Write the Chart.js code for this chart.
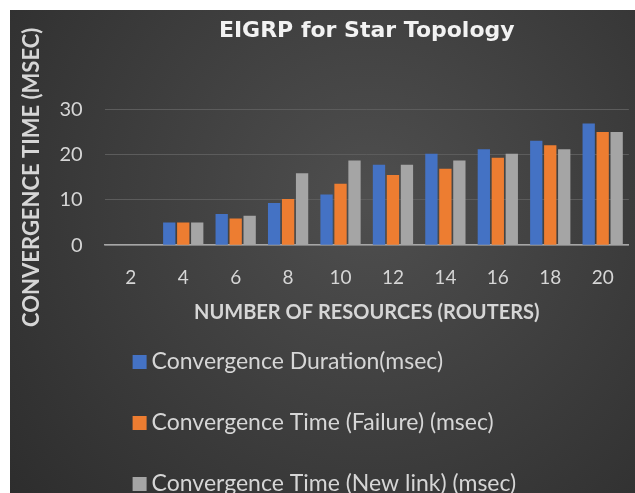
<!DOCTYPE html>
<html>
<head>
<meta charset="utf-8">
<script src="https://cdn.jsdelivr.net/npm/chart.js@4.4.1/dist/chart.umd.min.js"></script>
<style>
  body { margin: 0; background: #ffffff; }
  #wrap { position: absolute; left: 10px; top: 10px; width: 625px; height: 483px; }
</style>
</head>
<body>
<div id="wrap"><canvas id="chart"></canvas></div>
<script>
// Values
const routers = ["2", "4", "6", "8", "10", "12", "14", "16", "18", "20"];
const durationMs = [0, 5.0, 6.9, 9.3, 11.2, 17.8, 20.2, 21.2, 23.1, 26.9];
const failureMs = [0, 5.0, 5.9, 10.2, 13.6, 15.5, 16.9, 19.3, 22.1, 25.0];
const newLinkMs = [0, 5.0, 6.5, 15.9, 18.7, 17.8, 18.7, 20.2, 21.2, 25.0];
const yTicks = [0, 10, 20, 30];

const textColor = "#d6d6d6";

// Dark radial backdrop like the Office chart style
const backdrop = {
  id: "backdrop",
  beforeDraw(chart) {
    const { ctx, width, height } = chart;
    const g = ctx.createRadialGradient(360, 190, 10, 360, 190, 480);
    g.addColorStop(0, "#4e4e4e");
    g.addColorStop(1, "#2c2c2c");
    ctx.save();
    ctx.fillStyle = g;
    ctx.fillRect(0, 0, width, height);
    ctx.restore();
  }
};

// Legend stacked one item per row below the axis title
const stackedLegend = {
  id: "stackedLegend",
  afterDraw(chart, args, opts) {
    const ctx = chart.ctx;
    const x = chart.chartArea.left + opts.offsetX;
    const top = chart.scales.x.bottom + opts.offsetY;
    ctx.save();
    ctx.font = opts.font;
    ctx.textBaseline = "middle";
    chart.data.datasets.forEach((ds, i) => {
      const y = top + i * opts.rowGap;
      ctx.fillStyle = ds.backgroundColor;
      ctx.fillRect(x, y - 7, 14, 14);
      ctx.fillStyle = textColor;
      ctx.fillText(ds.label, x + 19, y);
    });
    ctx.restore();
  }
};

new Chart(document.getElementById("chart"), {
  type: "bar",
  data: {
    labels: routers,
    datasets: [
      { label: "Convergence Duration(msec)", data: durationMs, backgroundColor: "#4472C4" },
      { label: "Convergence Time (Failure) (msec)", data: failureMs, backgroundColor: "#ED7D31" },
      { label: "Convergence Time (New link) (msec)", data: newLinkMs, backgroundColor: "#A5A5A5" }
    ]
  },
  options: {
    responsive: true,
    maintainAspectRatio: false,
    animation: false,
    datasets: { bar: { categoryPercentage: 0.8, barPercentage: 0.88 } },
    layout: { padding: { left: 0, right: 6, top: 0, bottom: 168 } },
    plugins: {
      legend: { display: false },
      tooltip: { enabled: false },
      title: {
        display: true,
        fullSize: false,
        text: "EIGRP for Star Topology",
        color: "#f2f2f2",
        font: { family: "DejaVu Sans", size: 22, weight: "bold" },
        padding: { top: 8, bottom: 65 }
      },
      stackedLegend: { offsetX: 28, offsetY: 37, rowGap: 61, font: "23px Lato" }
    },
    scales: {
      x: {
        grid: { display: false, drawTicks: false },
        border: { display: true, color: "#a6a6a6", width: 1.5 },
        ticks: { color: textColor, padding: 21, font: { family: "Lato", size: 19 } },
        title: {
          display: true,
          text: "NUMBER OF RESOURCES (ROUTERS)",
          color: textColor,
          font: { family: "Lato", size: 20, weight: "bold" },
          padding: { top: -9, bottom: 0 }
        }
      },
      y: {
        min: 0,
        max: 30,
        afterBuildTicks(scale) { scale.ticks = yTicks.map(v => ({ value: v })); },
        grid: { color: "#5c5c5c", drawTicks: false },
        border: { display: false },
        ticks: { color: textColor, padding: 22, font: { family: "Lato", size: 20 } },
        title: {
          display: true,
          text: "CONVERGENCE TIME (MSEC)",
          color: textColor,
          font: { family: "Lato", size: 22, weight: "bold" },
          padding: { top: 9, bottom: -8 }
        }
      }
    }
  },
  plugins: [backdrop, stackedLegend]
});
</script>
</body>
</html>
